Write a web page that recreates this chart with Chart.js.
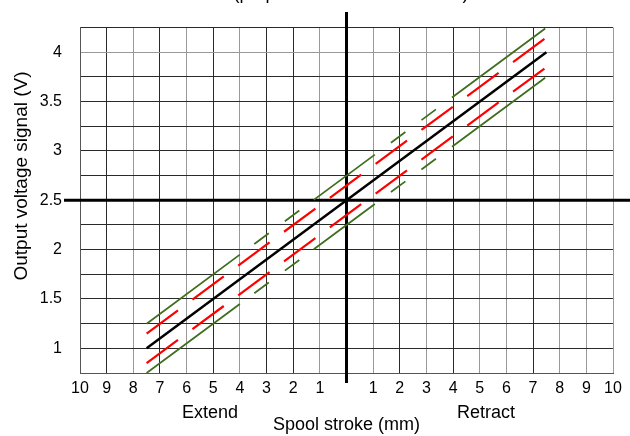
<!DOCTYPE html>
<html>
<head>
<meta charset="utf-8">
<script src="https://cdn.jsdelivr.net/npm/chart.js@4"></script>
<style>
  html, body { margin: 0; padding: 0; background: #fff; }
  #wrap { width: 630px; height: 436px; }
</style>
</head>
<body>
<div id="wrap"><canvas id="strokeChart" width="630" height="436"></canvas></div>
<script>
// Spool stroke (mm), negative = extend, positive = retract
const strokeMm = [-7.5, 7.5];

// Output voltage signal (V) at each end of the stroke
const nominalV = [1.0, 4.0];
const innerUpperV = [1.15, 4.15];
const innerLowerV = [0.85, 3.85];
const outerUpperV = [1.25, 4.25];
const outerLowerV = [0.75, 3.75];

// Tick labels
const xTickLabels = ['10', '9', '8', '7', '6', '5', '4', '3', '2', '1', '',
                     '1', '2', '3', '4', '5', '6', '7', '8', '9', '10'];
const yTickLabels = ['1', '1.5', '2', '2.5', '3', '3.5', '4'];

const FONT = "'Liberation Sans', Arial, sans-serif";
Chart.defaults.font.family = FONT;
Chart.defaults.color = '#000';

const points = (ys) => strokeMm.map((x, i) => ({ x: x, y: ys[i] }));

// light grid lines, the rest are dark (like the scanned original)
const lightX = [-8, -6, -4, -1, 1, 3, 5, 6, 8, 9, 10];

// extra drawing: thick centre cross, cut-off heading, side captions
const extras = {
    id: 'extras',
    beforeDatasetsDraw(chart) {
        const { ctx, scales: { x, y } } = chart;
        ctx.save();
        ctx.strokeStyle = '#000';
        ctx.lineWidth = 3;
        const yMid = y.getPixelForValue(2.5);
        const xMid = x.getPixelForValue(0);
        ctx.beginPath();
        ctx.moveTo(64, yMid);
        ctx.lineTo(chart.width, yMid);
        ctx.moveTo(xMid, 12);
        ctx.lineTo(xMid, chart.chartArea.bottom + 10);
        ctx.stroke();
        ctx.restore();
    },
    afterDraw(chart) {
        const { ctx } = chart;
        ctx.save();
        ctx.fillStyle = '#000';
        ctx.font = '18px ' + FONT;
        ctx.textAlign = 'center';
        ctx.textBaseline = 'alphabetic';
        // heading is cut off by the top edge in the original
        ctx.fillText('(proportional solenoid valves)', 351, -1);

        ctx.textBaseline = 'middle';
        ctx.fillText('Extend', 210, 413);
        ctx.fillText('Retract', 486, 413);

        ctx.translate(22, 176);
        ctx.rotate(-Math.PI / 2);
        ctx.font = '19px ' + FONT;
        ctx.fillText('Output voltage signal (V)', 0, 0);
        ctx.restore();
    }
};

new Chart(document.getElementById('strokeChart'), {
    type: 'line',
    data: {
        datasets: [
            {
                label: 'Outer upper',
                data: points(outerUpperV),
                borderColor: '#3f6f1f',
                borderWidth: 1.8,
                borderDash: [116, 18, 18, 20, 18, 18, 76, 20, 18, 20, 18, 20, 116, 300]
            },
            {
                label: 'Outer lower',
                data: points(outerLowerV),
                borderColor: '#3f6f1f',
                borderWidth: 1.8,
                borderDash: [116, 18, 18, 20, 18, 18, 76, 20, 18, 20, 18, 20, 116, 300]
            },
            {
                label: 'Inner upper',
                data: points(innerUpperV),
                borderColor: '#ff0000',
                borderWidth: 2.2,
                borderDash: [39, 18]
            },
            {
                label: 'Inner lower',
                data: points(innerLowerV),
                borderColor: '#ff0000',
                borderWidth: 2.2,
                borderDash: [39, 18]
            },
            {
                label: 'Nominal',
                data: points(nominalV),
                borderColor: '#000',
                borderWidth: 2.5
            }
        ]
    },
    options: {
        responsive: false,
        animation: false,
        layout: { padding: { top: 27, right: 17, left: 0, bottom: 0 } },
        elements: { point: { radius: 0 }, line: { tension: 0 } },
        plugins: {
            legend: { display: false },
            tooltip: { enabled: false }
        },
        scales: {
            x: {
                type: 'linear',
                min: -10,
                max: 10,
                afterFit: (s) => { s.height = 63; },
                afterBuildTicks: (s) => {
                    s.ticks = xTickLabels.map((_, i) => ({ value: i - 10 }));
                },
                grid: {
                    drawTicks: false,
                    color: (c) => lightX.includes(c.tick && c.tick.value) ? '#9a9a9a' : '#2a2a2a',
                    lineWidth: 1
                },
                border: { color: '#555' },
                ticks: {
                    autoSkip: false,
                    maxRotation: 0,
                    padding: 6,
                    font: { size: 16 },
                    callback: (v, i) => xTickLabels[i]
                },
                title: {
                    display: true,
                    text: 'Spool stroke (mm)',
                    font: { size: 18 },
                    padding: { top: 0, bottom: 0 }
                }
            },
            y: {
                type: 'linear',
                min: 0.75,
                max: 4.25,
                afterFit: (s) => { s.width = 80; },
                ticks: {
                    stepSize: 0.25,
                    autoSkip: false,
                    padding: 18,
                    font: { size: 16 },
                    callback: (v) => {
                        const s = String(Number(v.toFixed(2)));
                        return yTickLabels.includes(s) ? s : '';
                    }
                },
                grid: {
                    drawTicks: false,
                    color: (c) => (c.tick && c.tick.value === 4) ? '#9a9a9a' : '#2a2a2a',
                    lineWidth: 1
                },
                border: { color: '#555' }
            }
        }
    },
    plugins: [extras]
});
</script>
</body>
</html>
